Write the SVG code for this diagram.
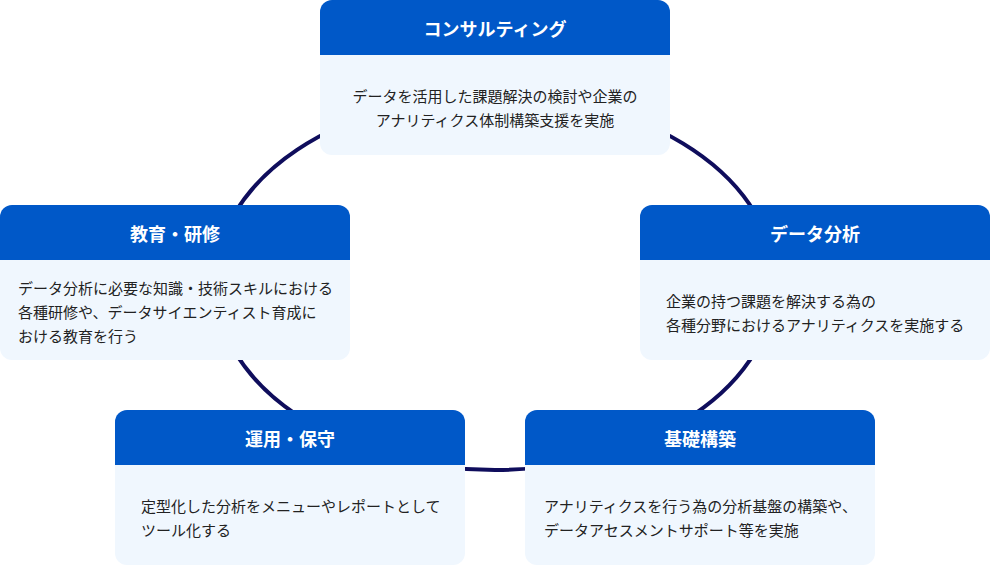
<svg xmlns="http://www.w3.org/2000/svg" width="990" height="565" viewBox="0 0 990 565">
<style>
.body{fill:#f0f7fe}
.head{fill:#0058c8}
.title{font-family:"Noto Sans CJK JP","Noto Sans",sans-serif;font-size:18px;font-weight:700;fill:#ffffff;text-anchor:middle;dominant-baseline:central}
.txt{font-family:"Noto Sans CJK JP","Noto Sans",sans-serif;font-size:15px;fill:#222222;dominant-baseline:central}
.ring{fill:none;stroke:#0f0d5c;stroke-width:4}
</style>
<defs>
<path id="hdr" d="M0,12 A12,12 0 0 1 12,0 H338 A12,12 0 0 1 350,12 V55 H0 Z"/>
</defs>
<g id="connectors">
<ellipse class="ring" cx="495" cy="282.5" rx="280" ry="187.5"/>
</g>
<g id="consulting" transform="translate(320,0)">
<rect class="body" width="350" height="155" rx="12"/>
<use href="#hdr" class="head"/>
<text class="title" x="175" y="28">コンサルティング</text>
<text class="txt" x="175" y="95" text-anchor="middle">データを活用した課題解決の検討や企業の</text>
<text class="txt" x="175" y="119" text-anchor="middle">アナリティクス体制構築支援を実施</text>
</g>
<g id="education" transform="translate(0,205)">
<rect class="body" width="350" height="155" rx="12"/>
<use href="#hdr" class="head"/>
<text class="title" x="175" y="28">教育・研修</text>
<text class="txt" x="18" y="82">データ分析に必要な知識・技術スキルにおける</text>
<text class="txt" x="18" y="106">各種研修や、データサイエンティスト育成に</text>
<text class="txt" x="18" y="130">おける教育を行う</text>
</g>
<g id="analysis" transform="translate(640,205)">
<rect class="body" width="350" height="155" rx="12"/>
<use href="#hdr" class="head"/>
<text class="title" x="175" y="28">データ分析</text>
<text class="txt" x="26" y="95">企業の持つ課題を解決する為の</text>
<text class="txt" x="26" y="119">各種分野におけるアナリティクスを実施する</text>
</g>
<g id="operation" transform="translate(115,410)">
<rect class="body" width="350" height="155" rx="12"/>
<use href="#hdr" class="head"/>
<text class="title" x="175" y="28">運用・保守</text>
<text class="txt" x="26" y="95">定型化した分析をメニューやレポートとして</text>
<text class="txt" x="26" y="119">ツール化する</text>
</g>
<g id="infrastructure" transform="translate(525,410)">
<rect class="body" width="350" height="155" rx="12"/>
<use href="#hdr" class="head"/>
<text class="title" x="175" y="28">基礎構築</text>
<text class="txt" x="19" y="95">アナリティクスを行う為の分析基盤の構築や、</text>
<text class="txt" x="19" y="119">データアセスメントサポート等を実施</text>
</g>
</svg>
